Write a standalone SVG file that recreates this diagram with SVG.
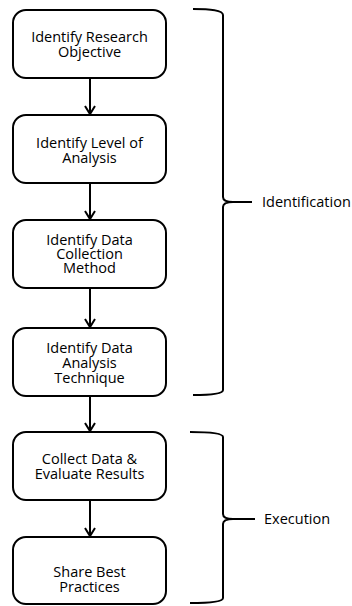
<svg xmlns="http://www.w3.org/2000/svg" width="352" height="606" viewBox="0 0 352 606">
<defs>
<style>
.box{fill:#fff;stroke:#000;stroke-width:2}
.t{font-family:"Open Sans","Liberation Sans",sans-serif;font-size:14.5px;fill:#000;text-anchor:middle}
.lbl{font-family:"Open Sans","Liberation Sans",sans-serif;font-size:14.5px;fill:#000}
.c{fill:none;stroke:#000;stroke-width:2}
.br{fill:none;stroke:#000;stroke-width:2}
</style>
<marker id="ah" markerWidth="12" markerHeight="12" refX="10" refY="6" orient="auto" markerUnits="userSpaceOnUse">
<path d="M2,1 L10,6 L2,11" fill="none" stroke="#000" stroke-width="2"/>
</marker>
</defs>
<rect width="352" height="606" fill="#fff"/>
<g id="connectors">
<line class="c" x1="90" y1="79" x2="90" y2="114" marker-end="url(#ah)"/>
<line class="c" x1="90" y1="184" x2="90" y2="219" marker-end="url(#ah)"/>
<line class="c" x1="90" y1="289" x2="90" y2="327" marker-end="url(#ah)"/>
<line class="c" x1="90" y1="397" x2="90" y2="431" marker-end="url(#ah)"/>
<line class="c" x1="90" y1="501" x2="90" y2="536" marker-end="url(#ah)"/>
</g>
<g id="n1"><rect class="box" x="13" y="10" width="153" height="68" rx="13"/><text class="t" x="89.5" y="42">Identify Research</text><text class="t" x="89.5" y="57">Objective</text></g>
<g id="n2"><rect class="box" x="13" y="115" width="153" height="68" rx="13"/><text class="t" x="89.5" y="148">Identify Level of</text><text class="t" x="89.5" y="163">Analysis</text></g>
<g id="n3"><rect class="box" x="13" y="220" width="153" height="68" rx="13"/><text class="t" x="89.5" y="245">Identify Data</text><text class="t" x="89.5" y="259">Collection</text><text class="t" x="89.5" y="273">Method</text></g>
<g id="n4"><rect class="box" x="13" y="328" width="153" height="68" rx="13"/><text class="t" x="89.5" y="353">Identify Data</text><text class="t" x="89.5" y="368">Analysis</text><text class="t" x="89.5" y="383">Technique</text></g>
<g id="n5"><rect class="box" x="13" y="432" width="153" height="68" rx="13"/><text class="t" x="89.5" y="464">Collect Data &amp;</text><text class="t" x="89.5" y="479">Evaluate Results</text></g>
<g id="n6"><rect class="box" x="13" y="537" width="153" height="67" rx="13"/><text class="t" x="89.5" y="577">Share Best</text><text class="t" x="89.5" y="592">Practices</text></g>
<g id="identification">
<path class="br" d="M193,9 C210,9 223,10 223,15 L223,197 C223,200 226,202 233,202 L252,202 M233,202 C226,202 223,204 223,207 L223,390 C223,394 210,395 193,395"/>
<text class="lbl" x="262" y="207">Identification</text>
</g>
<g id="execution">
<path class="br" d="M190,432 C208,432 223,433 223,437 L223,514 C223,517 226,519 233,519 L255,519 M233,519 C226,519 223,521 223,524 L223,598 C223,602 208,603 190,603"/>
<text class="lbl" x="264" y="524">Execution</text>
</g>
</svg>
